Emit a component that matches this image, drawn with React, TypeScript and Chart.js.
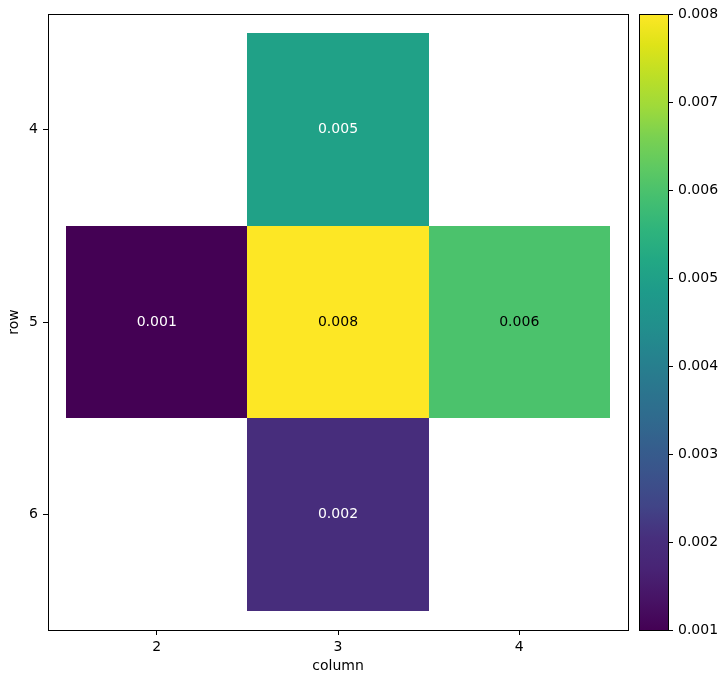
import React, { useEffect, useRef } from "react";
import { Chart, registerables } from "chart.js";

Chart.register(...registerables);

const columns = [3, 2, 3, 4, 3];
const rows = [4, 5, 5, 5, 6];
const values = [0.005, 0.001, 0.008, 0.006, 0.002];
const xTicks = [2, 3, 4];
const yTicks = [4, 5, 6];
const cbTicks = [0.001, 0.002, 0.003, 0.004, 0.005, 0.006, 0.007, 0.008];
const vmin = 0.001;
const vmax = 0.008;

const VIRIDIS = [
  "#440154", "#471365", "#482475", "#472f7d", "#414487", "#3b528b", "#355f8d",
  "#2f6c8e", "#2a788e", "#25848e", "#21918c", "#1e9b8a", "#22a884", "#2fb47c",
  "#44bf70", "#5ec962", "#7ad151", "#9fda3a", "#bddf26", "#dfe318", "#fde725",
];

function hexToRgb(h: string) {
  return [parseInt(h.slice(1, 3), 16), parseInt(h.slice(3, 5), 16), parseInt(h.slice(5, 7), 16)];
}

function viridis(t: number) {
  t = Math.max(0, Math.min(1, t));
  const n = VIRIDIS.length - 1;
  const p = t * n;
  const i = Math.min(n - 1, Math.floor(p));
  const f = p - i;
  const a = hexToRgb(VIRIDIS[i]);
  const b = hexToRgb(VIRIDIS[i + 1]);
  const c = a.map((v, k) => Math.round(v + (b[k] - v) * f));
  return c;
}

function lum(c: number[]) {
  const l = c.map((v) => {
    const s = v / 255;
    return s <= 0.03928 ? s / 12.92 : Math.pow((s + 0.055) / 1.055, 2.4);
  });
  return 0.2126 * l[0] + 0.7152 * l[1] + 0.0722 * l[2];
}

const FONT = "'DejaVu Sans', sans-serif";

const heatPlugin = {
  id: "heat",
  beforeDatasetsDraw(chart: any) {
    const { ctx, chartArea, scales } = chart;
    const xs = scales.x;
    const ys = scales.y;
    ctx.save();
    ctx.beginPath();
    ctx.rect(chartArea.left, chartArea.top, chartArea.right - chartArea.left, chartArea.bottom - chartArea.top);
    ctx.clip();
    for (let i = 0; i < values.length; i++) {
      const x0 = Math.round(xs.getPixelForValue(columns[i] - 0.5));
      const x1 = Math.round(xs.getPixelForValue(columns[i] + 0.5));
      const y0 = Math.round(ys.getPixelForValue(rows[i] - 0.5));
      const y1 = Math.round(ys.getPixelForValue(rows[i] + 0.5));
      const c = viridis((values[i] - vmin) / (vmax - vmin));
      ctx.fillStyle = `rgb(${c[0]},${c[1]},${c[2]})`;
      ctx.fillRect(Math.min(x0, x1), Math.min(y0, y1), Math.abs(x1 - x0), Math.abs(y1 - y0));
      ctx.fillStyle = lum(c) > 0.4 ? "#000000" : "#ffffff";
      ctx.font = `14px ${FONT}`;
      ctx.textAlign = "center";
      ctx.textBaseline = "middle";
      ctx.fillText(values[i].toFixed(3), xs.getPixelForValue(columns[i]), ys.getPixelForValue(rows[i]));
    }
    ctx.restore();
  },
  afterDraw(chart: any) {
    const { ctx, chartArea } = chart;
    ctx.save();
    ctx.strokeStyle = "#000";
    ctx.lineWidth = 1;
    ctx.strokeRect(chartArea.left + 0.5, chartArea.top + 0.5, chartArea.right - chartArea.left, chartArea.bottom - chartArea.top);
    ctx.restore();
  },
};

const cbPlugin = {
  id: "cb",
  beforeDatasetsDraw(chart: any) {
    const { ctx, chartArea, scales } = chart;
    const ys = scales.y;
    const yb = ys.getPixelForValue(vmin);
    const yt = ys.getPixelForValue(vmax);
    const g = ctx.createLinearGradient(0, yb, 0, yt);
    for (let i = 0; i < VIRIDIS.length; i++) g.addColorStop(i / (VIRIDIS.length - 1), VIRIDIS[i]);
    ctx.save();
    ctx.fillStyle = g;
    ctx.fillRect(chartArea.left, yt, chartArea.right - chartArea.left, yb - yt);
    ctx.restore();
  },
  afterDraw(chart: any) {
    const { ctx, chartArea } = chart;
    ctx.save();
    ctx.strokeStyle = "#000";
    ctx.lineWidth = 1;
    ctx.strokeRect(chartArea.left + 0.5, chartArea.top + 0.5, chartArea.right - chartArea.left, chartArea.bottom - chartArea.top);
    ctx.restore();
  },
};

const tickFont = { family: FONT, size: 14 };

export default function App() {
  const mainRef = useRef<HTMLCanvasElement>(null);
  const cbRef = useRef<HTMLCanvasElement>(null);

  useEffect(() => {
    const main = new Chart(mainRef.current as HTMLCanvasElement, {
      type: "scatter",
      data: {
        datasets: [
          {
            data: values.map((v, i) => ({ x: columns[i], y: rows[i] })),
            pointRadius: 0,
            pointHoverRadius: 0,
          },
        ],
      },
      options: {
        animation: false,
        responsive: false,
        events: [],
        layout: { padding: { top: 14, right: 6, left: 0, bottom: 0 } },
        plugins: { legend: { display: false }, tooltip: { enabled: false } },
        scales: {
          x: {
            type: "linear",
            min: 1.4,
            max: 4.6,
            afterBuildTicks: (s: any) => {
              s.ticks = xTicks.map((v) => ({ value: v }));
            },
            afterFit: (s: any) => {
              s.height = 54;
            },
            ticks: { color: "#000", font: tickFont, padding: 4, callback: (v: any) => String(v) },
            grid: { drawOnChartArea: false, drawTicks: true, tickLength: 5, tickColor: "#000", tickWidth: 1 },
            border: { display: false },
            title: { display: true, text: "column", color: "#000", font: tickFont, padding: { top: 0, bottom: 9 } },
          },
          y: {
            type: "linear",
            min: 3.4,
            max: 6.6,
            reverse: true,
            afterBuildTicks: (s: any) => {
              s.ticks = yTicks.map((v) => ({ value: v }));
            },
            afterFit: (s: any) => {
              s.width = 48;
            },
            ticks: { color: "#000", font: tickFont, padding: 5, callback: (v: any) => String(v) },
            grid: { drawOnChartArea: false, drawTicks: true, tickLength: 5, tickColor: "#000", tickWidth: 1 },
            border: { display: false },
            title: { display: true, text: "row", color: "#000", font: tickFont, padding: { top: 6, bottom: 0 } },
          },
        },
      },
      plugins: [heatPlugin],
    });

    const cb = new Chart(cbRef.current as HTMLCanvasElement, {
      type: "scatter",
      data: { datasets: [{ data: [], pointRadius: 0 }] },
      options: {
        animation: false,
        responsive: false,
        events: [],
        layout: { padding: { top: 14, left: 5, right: 0, bottom: 54 } },
        plugins: { legend: { display: false }, tooltip: { enabled: false } },
        scales: {
          x: { type: "linear", display: false, min: 0, max: 1 },
          y: {
            type: "linear",
            position: "right",
            min: vmin,
            max: vmax,
            afterBuildTicks: (s: any) => {
              s.ticks = cbTicks.map((v) => ({ value: v }));
            },
            afterFit: (s: any) => {
              s.width = 59;
            },
            ticks: { color: "#000", font: tickFont, padding: 5, callback: (v: any) => Number(v).toFixed(3) },
            grid: { drawOnChartArea: false, drawTicks: true, tickLength: 5, tickColor: "#000", tickWidth: 1 },
            border: { display: false },
          },
        },
      },
      plugins: [cbPlugin],
    });

    return () => {
      main.destroy();
      cb.destroy();
    };
  }, []);

  return (
    <div style={{ position: "fixed", left: 0, top: 0, width: 727, height: 684, background: "#fff" }}>
      <canvas
        ref={mainRef}
        width={634}
        height={684}
        style={{ position: "absolute", left: 0, top: 0, width: 634, height: 684 }}
      />
      <canvas
        ref={cbRef}
        width={93}
        height={684}
        style={{ position: "absolute", left: 634, top: 0, width: 93, height: 684 }}
      />
    </div>
  );
}
